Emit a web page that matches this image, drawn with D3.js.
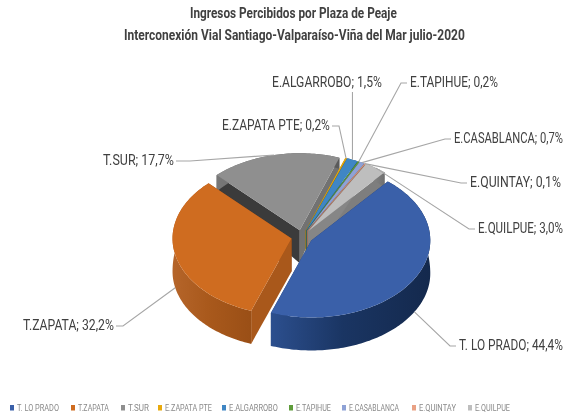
<!DOCTYPE html>
<html><head><meta charset="utf-8">
<script src="https://cdn.jsdelivr.net/npm/d3@7/dist/d3.min.js"></script>
<style>html,body{margin:0;background:#fff}svg{display:block;filter:blur(0.45px)}</style>
</head><body><div id="c"></div>
<script>
const categories=["T. LO PRADO","T.ZAPATA","T.SUR","E.ZAPATA PTE","E.ALGARROBO","E.TAPIHUE","E.CASABLANCA","E.QUINTAY","E.QUILPUE"];
const values=[44.4,32.2,17.7,0.2,1.5,0.2,0.7,0.1,3.0];
const valueLabels=["44,4%","32,2%","17,7%","0,2%","1,5%","0,2%","0,7%","0,1%","3,0%"];
const titleLines=["Ingresos Percibidos por Plaza de Peaje","Interconexión Vial Santiago-Valparaíso-Viña  del Mar julio-2020"];

const colors=["#3a60a9","#cf6c20","#8f8f8f","#e8a90c","#3f86c4","#5e9c3a","#8ea2d6","#e9a184","#bebebe"];
const rimLeft=["#2c4f8e","#b5652a","#777","#b9870a","#2f6a9c","#4a7c2e","#7082aa","#ba806a","#8a8a8a"];
const rimMid=["#1a3563","#a9591c","#666","#a97c08","#28597f","#3e6926","#5e6e90","#a06e5a","#808080"];
const rimRight=["#14294d","#9a4f16","#5a5a5a","#96700a","#224c6c","#355a20","#505e7a","#8c5f4e","#707070"];
const wallStart=["#1f3a6b","#a9581b","#3b3b3b","#a07a0a","#2a5f8c","#3e6926","#5e6e90","#a06e5a","#868686"];
const wallEnd=["#1f3a6b","#8f4a15","#727272","#a07a0a","#2a5f8c","#3e6926","#5e6e90","#a06e5a","#7e7e7e"];

const W=578,H=418,cx=302,cy=237,rx=119,ry=77,explode=0.09,startDeg=40,maxDepth=33;
// label layout: x, baseline, width
const labelLayout=[[459,350,104],[23,330,91],[103,165,71],[222,130,108],[272,87,110],[410,87,88],[454,143,109],[470,187,91],[478,233,85]];
const legendX=[10,71,121,158,222,289,342,412,468];
const legendW=[42,31,21,47,49,35,50,37,35];

const svg=d3.select("#c").append("svg").attr("width",W).attr("height",H);
const defs=svg.append("defs");
const fontN="'Liberation Sans Narrow','Roboto','Liberation Sans',sans-serif";

// narrow a text to a target width by a horizontal scale
function fitText(sel,x,y,w){
  const n=sel.node().getComputedTextLength();
  sel.attr("transform",`translate(${x},${y}) scale(${w/n},1)`);
}

const pie=d3.pie().sort(null).startAngle(startDeg*Math.PI/180).endAngle((startDeg+360)*Math.PI/180);
const arcs=pie(values);
const X=d3.scaleLinear().domain([-1,1]).range([cx-rx,cx+rx]);
const Y=d3.scaleLinear().domain([-1,1]).range([cy-ry,cy+ry]);
const depth=yu=>Math.max(10,maxDepth+Math.min(0,yu)*ry*0.3);
function pt(a,t,r,down){
  const m=(a.startAngle+a.endAngle)/2;
  const ux=explode*Math.sin(m)+r*Math.sin(t), uy=-explode*Math.cos(m)-r*Math.cos(t);
  const yu=-r*Math.cos(t);
  return [X(ux),Y(uy)+(down?depth(yu):0)];
}
const line=d3.line();
function angles(a){const n=Math.max(2,Math.ceil((a.endAngle-a.startAngle)/0.02));return d3.range(n+1).map(i=>a.startAngle+(a.endAngle-a.startAngle)*i/n);}

arcs.forEach((a,i)=>{
  const g=defs.append("linearGradient").attr("id","rim"+i);
  g.append("stop").attr("offset","0%").attr("stop-color",rimLeft[i]);
  g.append("stop").attr("offset","45%").attr("stop-color",rimMid[i]);
  g.append("stop").attr("offset","100%").attr("stop-color",rimRight[i]);
});

const order=[2,3,4,5,6,7,8,1,0];
const gPie=svg.append("g");
order.forEach(i=>{
  const a=arcs[i],ts=angles(a);
  const g=gPie.append("g");
  const apexT=pt(a,a.startAngle,0,false),apexB=pt(a,a.startAngle,0,true);
  g.append("path").attr("fill",wallEnd[i]).attr("d",line([apexT,pt(a,a.endAngle,1,false),pt(a,a.endAngle,1,true),apexB])+"Z");
  g.append("path").attr("fill",wallStart[i]).attr("d",line([apexT,pt(a,a.startAngle,1,false),pt(a,a.startAngle,1,true),apexB])+"Z");
  const rim=ts.map(t=>pt(a,t,1,false)).concat(ts.slice().reverse().map(t=>pt(a,t,1,true)));
  g.append("path").attr("fill",`url(#rim${i})`).attr("d",line(rim)+"Z");
  const top=[apexT].concat(ts.map(t=>pt(a,t,1,false)));
  g.append("path").attr("fill",colors[i]).attr("d",line(top)+"Z");
});

// leaders and labels
const gLab=svg.append("g");
arcs.forEach((a,i)=>{
  const m=(a.startAngle+a.endAngle)/2;
  const [lx,ly,lw]=labelLayout[i];
  const front=Math.cos(m)<0;
  const p=pt(a,m,1,front);
  let ex,ey=ly-4,pts;
  if(i===4){pts=[[p[0],ly+5],p];}
  else{
    ex=lx>p[0]?lx-3:lx+lw+2;
    const elbow=lx>p[0]?ex-6:ex+(i===2?14:7);
    pts=[[ex,ey],[elbow,ey],p];
  }
  gLab.append("path").attr("fill","none").attr("stroke","#a6a6a6").attr("stroke-width",1.1).attr("d",line(pts));
  const t=gLab.append("text").attr("font-family",fontN).attr("font-size",15).attr("fill","#404040")
    .text(categories[i]+"; "+valueLabels[i]);
  fitText(t,lx,ly,lw);
});

// title
titleLines.forEach((d,i)=>{
  const t=svg.append("text").attr("font-family",fontN).attr("font-weight","bold").attr("font-size",14.5).attr("fill","#404040").text(d);
  fitText(t,[190,124][i],[18,40][i],[207,341][i]);
});

// legend
categories.forEach((d,i)=>{
  svg.append("rect").attr("x",legendX[i]).attr("y",405).attr("width",4).attr("height",5.5).attr("fill",colors[i]);
  const t=svg.append("text").attr("font-family",fontN).attr("font-size",9.5).attr("fill","#8a8a8a").text(d);
  fitText(t,legendX[i]+7,411,legendW[i]);
});
</script></body></html>
